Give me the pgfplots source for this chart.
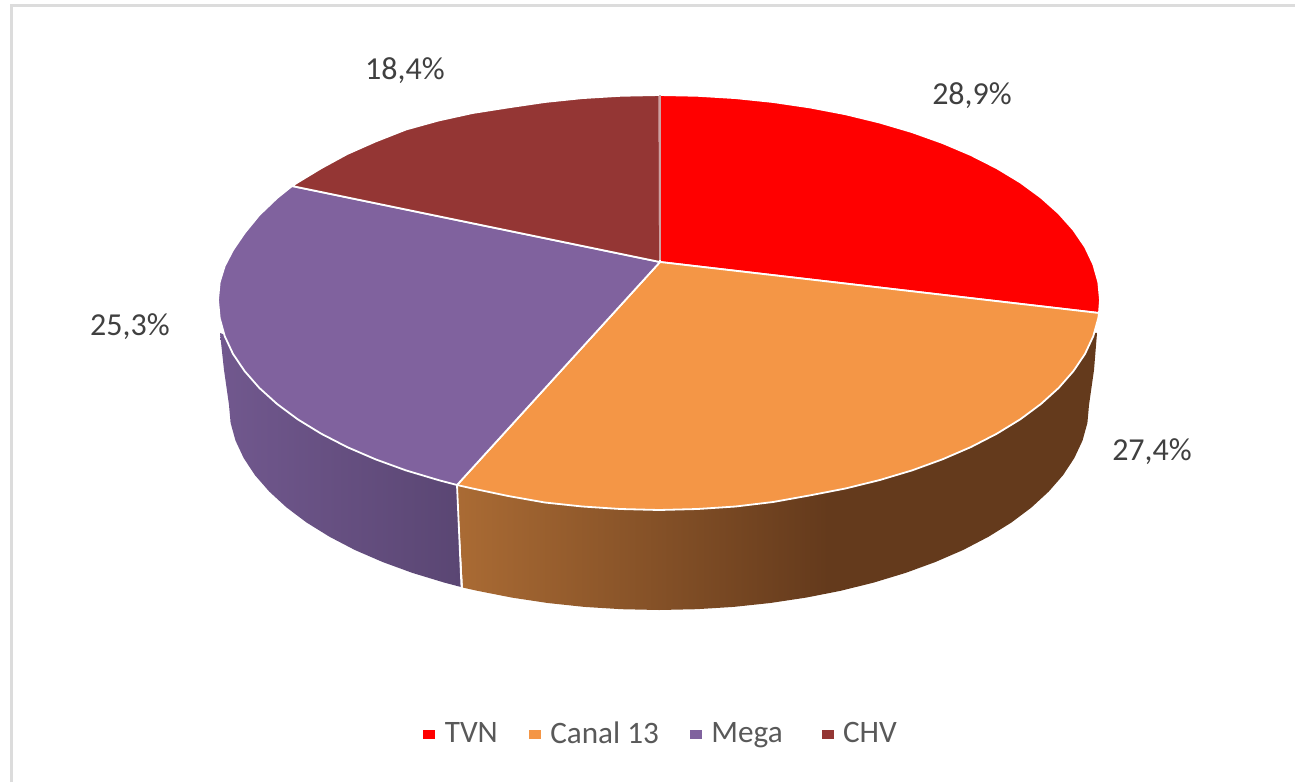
\documentclass[border=0pt]{standalone}
\usepackage{fontspec}
\setmainfont{Carlito}
\usepackage{pgfplots}
\pgfplotsset{compat=1.18}
\definecolor{tvn}{RGB}{255,0,0}
\definecolor{canal}{RGB}{244,150,70}
\definecolor{mega}{RGB}{128,98,158}
\definecolor{chv}{RGB}{148,54,52}
\definecolor{framegray}{RGB}{220,220,220}
\definecolor{sideoa}{RGB}{170,107,52}
\definecolor{sideob}{RGB}{100,58,28}
\definecolor{sidepa}{RGB}{113,88,142}
\definecolor{sidepb}{RGB}{90,70,115}
\pgfdeclarehorizontalshading{sideorange}{100bp}{
  color(0bp)=(sideoa); color(25bp)=(sideoa); color(54bp)=(sideob); color(100bp)=(sideob)}
\pgfdeclarehorizontalshading{sidepurple}{100bp}{
  color(0bp)=(sidepa); color(25bp)=(sidepa); color(75bp)=(sidepb); color(100bp)=(sidepb)}
\begin{document}
\begin{tikzpicture}
\useasboundingbox (0,0) rectangle (647.5pt,391pt);
\begin{axis}[
  at={(0,0)}, anchor=south west,
  scale only axis, width=647.5pt, height=391pt,
  xmin=0, xmax=1295, ymin=0, ymax=782, y dir=reverse,
  hide axis, clip=false,
  font=\fontsize{15.6}{18}\selectfont,
  legend columns=4,
  legend image code/.code={\fill[#1] (0pt,-2pt) rectangle (5.5pt,2pt); \path[draw=none,fill=none] (0pt,0pt) -- (8.5pt,0pt);},
  legend style={draw=none, fill=none, at={(axis cs:423,734)}, anchor=west,
    text=black!65, inner sep=0pt,
    /tikz/every even column/.append style={column sep=13.5pt}},
]
% frame
\addplot[framegray, line width=1.5pt, forget plot] coordinates {(11.5,782) (11.5,5.5) (1295,5.5)};
% sides
\addplot[draw=none, shading=sideorange, forget plot] coordinates {
(1097,333) (1094,370) (1089,405) (1087.4,422.9) (1082.5,440.6) (1074.3,458.1) (1063.1,475.1)
(1048.7,491.6) (1031.4,507.5) (1011.3,522.6) (988.4,536.8) (963.1,550) (935.4,562) (905.6,572.9)
(874,582.5) (840.7,590.8) (806.1,597.6) (770.3,603) (733.6,606.9) (696.5,609.2) (659,610)
(621.5,609.2) (584.4,606.9) (547.7,603) (511.9,597.6) (477.3,590.8) (463,587.6) (457,485) (660,300)
} --cycle;
\addplot[draw=none, shading=sidepurple, forget plot] coordinates {
(461,587) (444,582.5) (412.4,572.9) (382.6,562) (354.9,550) (329.6,536.8) (306.7,522.6) (286.6,507.5)
(269.3,491.6) (254.9,475.1) (243.7,458.1) (235.5,440.6) (230.6,422.9) (229,405) (224,370) (220,333)
(400,400) (457,485)
} --cycle;
\addplot[white, line width=0.9pt, forget plot] coordinates {(457,485) (461.5,587)};
% top face
\addplot[fill=tvn, draw=white, line width=0.9pt, line join=round, forget plot] coordinates {
(660,262) (659.5,95) (697.5,95.8) (735.6,98.1) (773.1,102) (809.8,107.4) (845.4,114.2) (879.5,122.5)
(912,132.1) (942.5,143) (970.8,155) (996.8,168.2) (1020.3,182.4) (1040.9,197.5) (1058.7,213.4)
(1073.4,229.9) (1085,246.9) (1093.3,264.4) (1098.3,282.1) (1100,300) (1099,313)
} --cycle;
\addplot[fill=canal, draw=white, line width=0.9pt, line join=round, forget plot] coordinates {
(660,262) (1099,313) (1098.3,318.1) (1093.3,336.1) (1085,353.9) (1073.4,371.1) (1058.7,387.9)
(1040.9,404) (1020.3,419.3) (996.8,433.7) (970.8,447.1) (942.5,459.3) (912,470.4) (879.5,480.1)
(845.4,488.5) (809.8,495.4) (773.1,502) (735.6,506.5) (697.5,509) (659,510) (620.5,509)
(582.4,506.5) (544.9,502.5) (508.2,496) (472.6,488.5) (457,485)
} --cycle;
\addplot[fill=mega, draw=white, line width=0.9pt, line join=round, forget plot] coordinates {
(660,262) (457,485) (438.5,480.1) (406,470.4) (375.5,459.3) (347.2,447.1) (321.2,433.7) (297.7,419.3)
(277.1,404) (259.3,387.9) (244.6,371.1) (233,353.9) (224.7,336.1) (219.7,318.1) (218,300)
(219.7,282.1) (224.7,266) (233,250) (244.6,233) (259.3,215) (277.1,198) (292,186)
} --cycle;
\addplot[fill=chv, draw=white, line width=0.9pt, line join=round, forget plot] coordinates {
(660,262) (292,186) (297.7,182.4) (321.2,168.2) (347.2,154) (375.5,141.5) (406,129.5) (438.5,120.5)
(472.6,113) (508.2,107.4) (544.9,102) (582.4,98.1) (620.5,95.8) (659.5,95)
} --cycle;
\addplot[color={rgb,255:red,205;green,160;blue,160}, line width=1pt, forget plot] coordinates {(659.5,95) (659.5,260)};
% value labels
\addplot[draw=none, mark=none, forget plot, point meta=explicit symbolic,
  nodes near coords,
  nodes near coords style={anchor=center, text=black!75, font=\fontsize{16}{19}\selectfont}]
  coordinates {(972,96) [28,9\%] (1152,452) [27,4\%] (130,327) [25,3\%] (405,71) [18,4\%]};
% legend
\addlegendimage{tvn}
\addlegendentry{TVN}
\addlegendimage{canal}
\addlegendentry{Canal 13}
\addlegendimage{mega}
\addlegendentry{Mega\rule{4pt}{0pt}}
\addlegendimage{chv}
\addlegendentry{CHV}
\end{axis}
\end{tikzpicture}
\end{document}
